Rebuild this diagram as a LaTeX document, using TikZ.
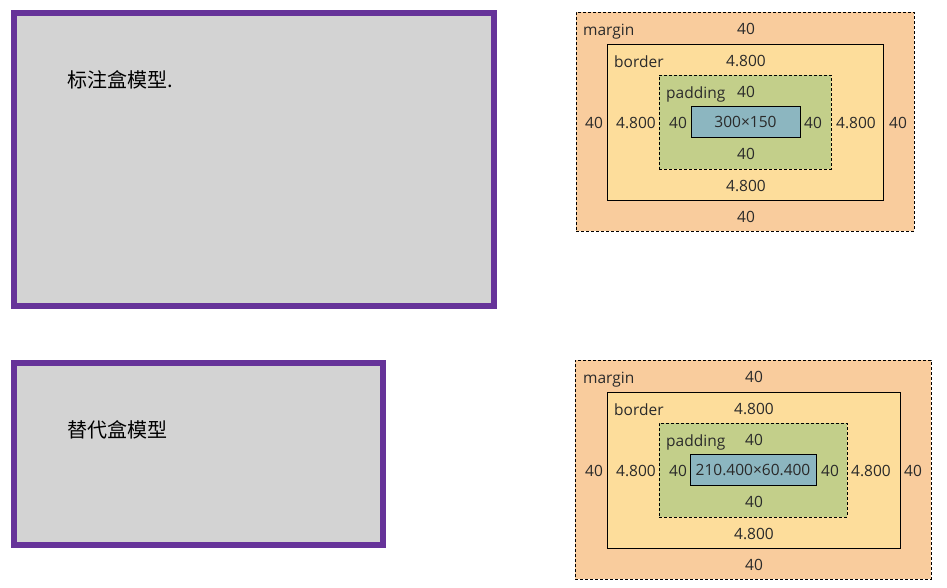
\documentclass[tikz,border=0pt]{standalone}
\usepackage{fontspec}
\setmainfont{Open Sans}
\newfontfamily\cjk{Noto Sans CJK SC}
\usetikzlibrary{positioning}
\definecolor{boxpurple}{HTML}{663399}
\definecolor{boxgrey}{HTML}{D3D3D3}
\definecolor{mgncol}{HTML}{F9CC9D}
\definecolor{bdrcol}{HTML}{FDDD9B}
\definecolor{padcol}{HTML}{C3CF8A}
\definecolor{cntcol}{HTML}{8CB6C0}
\definecolor{txtcol}{HTML}{2A2A2A}
\tikzset{
  x=1pt, y=-1pt,
  demo/.style={rectangle, draw=boxpurple, fill=boxgrey, line width=6pt, inner sep=0pt},
  layer/.style={rectangle, inner sep=0pt, line width=0.8pt},
  mgn/.style={layer, draw=black, fill=mgncol, dash pattern=on 3pt off 2pt},
  bdr/.style={layer, draw=black, fill=bdrcol},
  pad/.style={layer, draw=black, fill=padcol, dash pattern=on 3pt off 2pt},
  cnt/.style={layer, draw=black, fill=cntcol, font=\fontsize{15.5}{18}\selectfont, text=txtcol},
  lbl/.style={font=\fontsize{15.5}{18}\selectfont, text=txtcol, inner sep=0pt},
  tag/.style={lbl, anchor=base west},
  title/.style={font=\cjk\fontsize{20}{24}\selectfont, inner sep=0pt, anchor=west},
}
\begin{document}
\begin{tikzpicture}
  \useasboundingbox (0,0) rectangle (947,587);
  % left: demo boxes
  \node[demo, minimum width=480pt, minimum height=293pt] (std) at (254,159.5) {};
  \node[title] (stdtxt) at (67,80) {标注盒模型.};
  \node[demo, minimum width=369pt, minimum height=182pt] (alt) at (198.5,454) {};
  \node[title] (alttxt) at (67,430) {替代盒模型};

  % right, top: standard box model
  \node[mgn, minimum width=338pt, minimum height=219pt] (m1) at (745,121.5) {};
  \node[bdr, minimum width=276pt, minimum height=156pt] (b1) at (745,122) {};
  \node[pad, minimum width=172pt, minimum height=94pt] (p1) at (745,122) {};
  \node[cnt, minimum width=109pt, minimum height=31pt] (c1) at (745.5,121.5) {300×150};
  \node[tag] at (583,35) {margin};
  \node[tag] at (614,67) {border};
  \node[tag] at (666,98) {padding};
  \node[lbl] at (746,29) {40};
  \node[lbl] at (746,61) {4.800};
  \node[lbl] at (746,92) {40};
  \node[lbl] at (746,154) {40};
  \node[lbl] at (746,186) {4.800};
  \node[lbl] at (746,217) {40};
  \node[lbl] at (594,123) {40};
  \node[lbl] at (636,123) {4.800};
  \node[lbl] at (678,123) {40};
  \node[lbl] at (813,123) {40};
  \node[lbl] at (856,123) {4.800};
  \node[lbl] at (898,123) {40};

  % right, bottom: alternative box model
  \node[mgn, minimum width=356pt, minimum height=219pt] (m2) at (753,469.5) {};
  \node[bdr, minimum width=293pt, minimum height=156pt] (b2) at (753.5,470) {};
  \node[pad, minimum width=188pt, minimum height=94pt] (p2) at (753,470) {};
  \node[cnt, minimum width=126pt, minimum height=31pt] (c2) at (753,469.5) {210.400×60.400};
  \node[tag] at (583,383) {margin};
  \node[tag] at (614,415) {border};
  \node[tag] at (666,446) {padding};
  \node[lbl] at (754,377) {40};
  \node[lbl] at (754,409) {4.800};
  \node[lbl] at (754,440) {40};
  \node[lbl] at (754,502) {40};
  \node[lbl] at (754,534) {4.800};
  \node[lbl] at (754,565) {40};
  \node[lbl] at (594,471) {40};
  \node[lbl] at (636,471) {4.800};
  \node[lbl] at (678,471) {40};
  \node[lbl] at (830,471) {40};
  \node[lbl] at (871,471) {4.800};
  \node[lbl] at (913,471) {40};
\end{tikzpicture}
\end{document}
